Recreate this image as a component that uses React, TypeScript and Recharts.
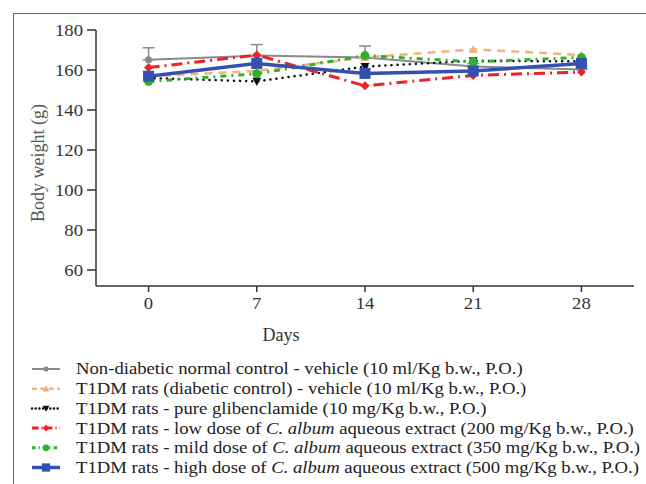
import React from "react";
import {
  LineChart,
  Line,
  XAxis,
  YAxis,
  ErrorBar,
  Legend,
} from "recharts";

const days = [0, 7, 14, 21, 28];

const normalControl = [165.1, 167.2, 166.3, 161.7, 160.3];
const normalControlErr = [6, 5.5, 5.7, 1.5, 1.5];
const diabeticControl = [156.9, 159.5, 166.3, 170.3, 167.5];
const glibenclamide = [156, 154.3, 161.7, 164.6, 164.3];
const lowDose = [161.2, 167.5, 152.1, 157.3, 159];
const mildDose = [154.3, 158.1, 167.2, 164.1, 166.3];
const highDose = [156.9, 163.3, 158.3, 159.5, 163.3];

const yTicks = [60, 80, 100, 120, 140, 160, 180];

const legendLabels = [
  "Non-diabetic normal control - vehicle (10 ml/Kg b.w., P.O.)",
  "T1DM rats (diabetic control) - vehicle (10 ml/Kg b.w., P.O.)",
  "T1DM rats - pure glibenclamide (10 mg/Kg b.w., P.O.)",
  "T1DM rats - low dose of C. album aqueous extract (200 mg/Kg b.w., P.O.)",
  "T1DM rats - mild dose of C. album aqueous extract (350 mg/Kg b.w., P.O.)",
  "T1DM rats - high dose of C. album aqueous extract (500 mg/Kg b.w., P.O.)",
];

const FONT = '"Liberation Serif", "Times New Roman", serif';
// the source picture is a little stretched sideways
const STRETCH = 1.1;

type Shape = "circle" | "triUp" | "triDown" | "diamond" | "square";

interface SeriesStyle {
  key: string;
  color: string;
  width: number;
  dash?: string;
  cap?: "round" | "butt";
  shape: Shape;
  size: number;
}

const SERIES: SeriesStyle[] = [
  { key: "normal", color: "#8a8a8a", width: 2, shape: "circle", size: 3.5 },
  { key: "diabetic", color: "#f4b27a", width: 2.5, dash: "8 6", shape: "triUp", size: 4.5 },
  { key: "glib", color: "#111111", width: 2.5, dash: "0.1 6", cap: "round", shape: "triDown", size: 4.5 },
  { key: "low", color: "#ee2222", width: 3, dash: "11 5 2 5", shape: "diamond", size: 4.5 },
  { key: "mild", color: "#2eb12e", width: 3, dash: "6 5 2 5", shape: "circle", size: 4.5 },
  { key: "high", color: "#3450b0", width: 3.5, shape: "square", size: 5.5 },
];

const rows = days.map((d, i) => ({
  day: d,
  normal: normalControl[i],
  normalErr: [0, normalControlErr[i]],
  diabetic: diabeticControl[i],
  glib: glibenclamide[i],
  low: lowDose[i],
  mild: mildDose[i],
  high: highDose[i],
}));

function Marker({ shape, x, y, s, color }: { shape: Shape; x: number; y: number; s: number; color: string }) {
  if (shape === "circle") return <circle cx={x} cy={y} r={s} fill={color} />;
  if (shape === "square")
    return <rect x={x - s} y={y - s} width={s * 2} height={s * 2} fill={color} />;
  if (shape === "diamond")
    return <path d={`M${x},${y - s}L${x + s},${y}L${x},${y + s}L${x - s},${y}Z`} fill={color} />;
  if (shape === "triUp")
    return <path d={`M${x},${y - s}L${x + s},${y + s * 0.8}L${x - s},${y + s * 0.8}Z`} fill={color} />;
  return <path d={`M${x},${y + s}L${x + s},${y - s * 0.8}L${x - s},${y - s * 0.8}Z`} fill={color} />;
}

function makeDot(st: SeriesStyle) {
  return (props: any) => {
    const { cx, cy, index } = props;
    if (cx == null || cy == null) return <g key={index} />;
    return (
      <g key={index}>
        <Marker shape={st.shape} x={cx} y={cy} s={st.size} color={st.color} />
      </g>
    );
  };
}

function stretchAt(x: number) {
  return `translate(${x},0) scale(${STRETCH},1) translate(${-x},0)`;
}

function XTick(props: any) {
  const { x, y, payload } = props;
  return (
    <text
      x={x}
      y={y + 13}
      transform={stretchAt(x)}
      textAnchor="middle"
      fontSize={17}
      fontFamily={FONT}
      fill="#333"
    >
      {payload.value}
    </text>
  );
}

function YTick(props: any) {
  const { x, y, payload } = props;
  return (
    <text
      x={x}
      y={y + 6}
      transform={stretchAt(x)}
      textAnchor="end"
      fontSize={17}
      fontFamily={FONT}
      fill="#333"
    >
      {payload.value}
    </text>
  );
}

function LabelText({ text }: { text: string }) {
  const parts = text.split("C. album");
  if (parts.length === 1) return <>{text}</>;
  return (
    <>
      <tspan>{parts[0]}</tspan>
      <tspan fontStyle="italic">C. album</tspan>
      <tspan>{parts[1]}</tspan>
    </>
  );
}

function ChartLegend() {
  return (
    <svg width={646} height={130} style={{ display: "block" }}>
      {SERIES.map((st, i) => {
        const cy = 14 + i * 19.7;
        return (
          <g key={st.key}>
            <line
              x1={32}
              x2={60}
              y1={cy}
              y2={cy}
              stroke={st.color}
              strokeWidth={st.width}
              strokeDasharray={st.dash ? st.dash.split(" ").map((v) => Number(v) * 0.6).join(" ") : undefined}
              strokeLinecap={st.cap || "butt"}
            />
            <Marker shape={st.shape} x={46} y={cy} s={st.size * 0.75} color={st.color} />
            <text
              x={76}
              y={cy + 5.5}
              transform={stretchAt(76)}
              fontSize={17}
              fontFamily={FONT}
              fill="#222"
            >
              <LabelText text={legendLabels[i]} />
            </text>
          </g>
        );
      })}
    </svg>
  );
}

export default function App() {
  return (
    <div
      style={{
        position: "absolute",
        left: 0,
        top: 0,
        width: 646,
        height: 484,
        background: "#fff",
        overflow: "hidden",
        fontFamily: FONT,
      }}
    >
      <div
        style={{
          position: "absolute",
          left: 13,
          top: 13,
          width: 700,
          height: 520,
          border: "1.5px solid #666",
        }}
      />
      <LineChart
        width={646}
        height={484}
        data={rows}
        margin={{ top: 30, right: 12, bottom: 168, left: 0 }}
        style={{ position: "absolute", left: 0, top: 0 }}
      >
        <XAxis
          dataKey="day"
          type="number"
          domain={[-3.4, 31.4]}
          ticks={days}
          allowDataOverflow
          height={30}
          tickSize={6}
          tickMargin={4}
          axisLine={{ stroke: "#333", strokeWidth: 1.5 }}
          tickLine={{ stroke: "#333", strokeWidth: 1.5 }}
          tick={<XTick />}
          label={{
            value: "Days",
            position: "bottom",
            offset: 12,
            dx: -84,
            fill: "#333",
            fontSize: 18,
            fontFamily: FONT,
          }}
        />
        <YAxis
          type="number"
          domain={[52, 180]}
          ticks={yTicks}
          allowDataOverflow
          width={96}
          tickSize={9}
          tickMargin={4}
          axisLine={{ stroke: "#333", strokeWidth: 1.5 }}
          tickLine={{ stroke: "#333", strokeWidth: 1.5 }}
          tick={<YTick />}
          label={{
            content: (p: any) => {
              const vb = p.viewBox || { x: 0, y: 30, height: 256 };
              const cx = 38;
              const cy = vb.y + vb.height / 2 + 5;
              return (
                <text
                  x={cx}
                  y={cy}
                  transform={`rotate(-90 ${cx} ${cy})`}
                  textAnchor="middle"
                  dominantBaseline="central"
                  fontSize={18}
                  fontFamily={FONT}
                  fill="#555"
                >
                  Body weight (g)
                </text>
              );
            },
          }}
        />
        {SERIES.map((st) => (
          <Line
            key={st.key}
            dataKey={st.key}
            type="linear"
            stroke={st.color}
            strokeWidth={st.width}
            strokeDasharray={st.dash}
            strokeLinecap={st.cap || "butt"}
            dot={makeDot(st)}
            activeDot={false}
            isAnimationActive={false}
          >
            {st.key === "normal" ? (
              <ErrorBar dataKey="normalErr" direction="y" width={6} stroke="#8a8a8a" strokeWidth={1.5} />
            ) : null}
          </Line>
        ))}
        <Legend
          verticalAlign="middle"
          align="center"
          layout="horizontal"
          wrapperStyle={{ position: "absolute", left: 0, top: 355, width: 646 }}
          content={() => <ChartLegend />}
        />
      </LineChart>
    </div>
  );
}
